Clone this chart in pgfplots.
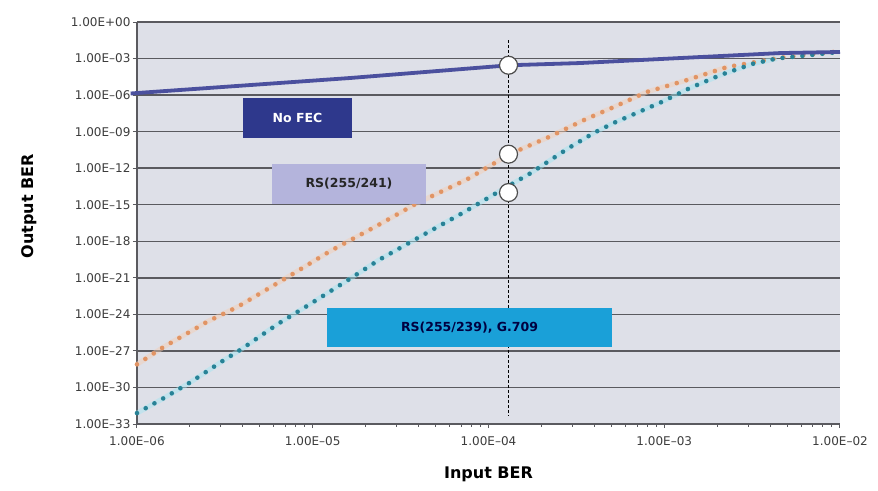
\documentclass[border=0pt]{standalone}
\usepackage{pgfplots}
\pgfplotsset{compat=1.18}
\usepackage{fontspec}
\setmainfont{DejaVu Sans}
\definecolor{bgc}{RGB}{222,224,232}
\definecolor{gridc}{RGB}{90,90,95}
\definecolor{nofec}{RGB}{75,80,158}
\definecolor{nofecbox}{RGB}{46,56,140}
\definecolor{rsbox}{RGB}{180,180,220}
\definecolor{gbox}{RGB}{26,160,216}
\definecolor{orng}{RGB}{225,148,100}
\definecolor{orngh}{RGB}{245,205,178}
\definecolor{teal}{RGB}{40,130,150}
\definecolor{tealh}{RGB}{160,230,242}
\definecolor{txt}{RGB}{60,60,60}
\begin{document}
\begin{tikzpicture}
\useasboundingbox (-137pt,-66pt) rectangle (741pt,424pt);
\begin{axis}[
  at={(0,0)}, anchor=south west,
  scale only axis, width=703pt, height=402pt,
  xmode=log, ymode=log,
  xmin=1e-6, xmax=1e-2, ymin=1e-33, ymax=1,
  axis background/.style={fill=bgc},
  axis x line*=bottom, axis y line*=left,
  axis line style={-, draw=gridc, line width=1.2pt},
  tick align=outside, major tick length=4pt,
  tick style={draw=gridc, line width=1pt},
  minor xtick={}, minor ytick={},
  xtick={1e-6,1e-5,1e-4,1e-3,1e-2},
  xticklabels={1.00E--06,1.00E--05,1.00E--04,1.00E--03,1.00E--02},
  ytick={1e-33,1e-30,1e-27,1e-24,1e-21,1e-18,1e-15,1e-12,1e-9,1e-6,1e-3,1},
  yticklabels={1.00E--33,1.00E--30,1.00E--27,1.00E--24,1.00E--21,1.00E--18,1.00E--15,1.00E--12,1.00E--09,1.00E--06,1.00E--03,1.00E+00},
  ticklabel style={font=\fontsize{12}{14}\selectfont, text=txt},
  xticklabel style={yshift=-5pt},
  yticklabel style={xshift=1pt},
  ymajorgrids, grid style={draw=gridc, line width=1.4pt},
  every axis x label/.style={at={(rel axis cs:0.5,0)}, yshift=-50pt, anchor=center},
  every axis y label/.style={at={(rel axis cs:0,0.542)}, xshift=-108pt, rotate=90, anchor=center},
  xlabel={\fontsize{16}{18}\selectfont\bfseries Input BER},
  ylabel={\fontsize{16}{18}\selectfont\bfseries Output BER},
  clip=false,
]
% halos
\addplot[tealh, line width=5pt, opacity=0.45, line join=round] coordinates {
(1e-6,7.9e-33)(1.41e-6,1.26e-31)(2.0e-6,2.5e-30)(3.09e-6,1.58e-28)(3.98e-6,1.58e-27)
(6.31e-6,1.58e-25)(9.55e-6,6.3e-24)(1.58e-5,6.3e-22)(2.40e-5,3.16e-20)(4.47e-5,5.0e-18)
(7.08e-5,2.0e-16)(1.12e-4,1.0e-14)(1.74e-4,3.98e-13)(2.82e-4,3.98e-11)(3.98e-4,7.9e-10)
(5.13e-4,5.0e-9)(9.55e-4,2.5e-7)(1.41e-3,3.98e-6)(2.09e-3,4.47e-5)(3.24e-3,3.98e-4)
(4.37e-3,1.0e-3)};
\addplot[orngh, line width=5pt, opacity=0.45, line join=round] coordinates {
(1e-6,7.9e-29)(1.41e-6,2.0e-27)(2.51e-6,2.5e-25)(3.72e-6,4.0e-24)(7.08e-6,1.0e-21)
(1.26e-5,1.6e-19)(2.34e-5,2.0e-17)(3.89e-5,1.26e-15)(7.59e-5,1.26e-13)(1.32e-4,1.41e-11)
(2.24e-4,3.98e-10)(3.55e-4,1.0e-8)(5.13e-4,1.0e-7)(7.94e-4,1.78e-6)(1.35e-3,1.74e-5)
(2.29e-3,2.04e-4)};
% RS(255/241)
\addplot[orng, line width=4.6pt, line cap=round, dash pattern=on 0pt off 10pt] coordinates {
(1e-6,7.9e-29)(1.41e-6,2.0e-27)(2.51e-6,2.5e-25)(3.72e-6,4.0e-24)(7.08e-6,1.0e-21)
(1.26e-5,1.6e-19)(2.34e-5,2.0e-17)(3.89e-5,1.26e-15)(7.59e-5,1.26e-13)(1.32e-4,1.41e-11)
(2.24e-4,3.98e-10)(3.55e-4,1.0e-8)(5.13e-4,1.0e-7)(7.94e-4,1.78e-6)(1.35e-3,1.74e-5)
(2.29e-3,2.04e-4)(4.47e-3,1.12e-3)(1e-2,3.98e-3)};
% RS(255/239)
\addplot[teal, line width=4.6pt, line cap=round, dash pattern=on 0pt off 10pt] coordinates {
(1e-6,7.9e-33)(1.41e-6,1.26e-31)(2.0e-6,2.5e-30)(3.09e-6,1.58e-28)(3.98e-6,1.58e-27)
(6.31e-6,1.58e-25)(9.55e-6,6.3e-24)(1.58e-5,6.3e-22)(2.40e-5,3.16e-20)(4.47e-5,5.0e-18)
(7.08e-5,2.0e-16)(1.12e-4,1.0e-14)(1.74e-4,3.98e-13)(2.82e-4,3.98e-11)(3.98e-4,7.9e-10)
(5.13e-4,5.0e-9)(9.55e-4,2.5e-7)(1.41e-3,3.98e-6)(2.09e-3,4.47e-5)(3.24e-3,3.98e-4)
(4.37e-3,1.0e-3)(1e-2,3.5e-3)};
% No FEC
\addplot[nofec, line width=3.8pt] coordinates {
(9.2e-7,1.35e-6)(1e-6,1.48e-6)(1.62e-5,2.51e-5)(1.32e-4,2.82e-4)(3.31e-4,4.27e-4)(1.23e-3,1.1e-3)(4.57e-3,2.82e-3)(1e-2,3.47e-3)};
% vertical dashed line
\addplot[black, line width=0.9pt, dash pattern=on 3pt off 2pt] coordinates {(1.3e-4,3.2e-2)(1.3e-4,5e-33)};
% circles
\addplot[only marks, mark=*, mark size=9pt, mark options={fill=white, draw=black!70, line width=1.2pt}] coordinates {
(1.3e-4,2.82e-4)(1.3e-4,1.41e-11)(1.3e-4,1.0e-14)};
% label boxes
\node[fill=nofecbox, text=white, minimum width=109pt, minimum height=40pt, inner sep=0pt, font=\fontsize{12.5}{14}\selectfont\bfseries] at (rel axis cs:0.2283,0.7612) {No FEC};
\node[fill=rsbox, text=black!85, minimum width=154pt, minimum height=40pt, inner sep=0pt, font=\fontsize{12.5}{14}\selectfont\bfseries] at (rel axis cs:0.3016,0.5970) {RS(255/241)};
\node[fill=gbox, text=black!75!blue, minimum width=285pt, minimum height=39pt, inner sep=0pt, font=\fontsize{12.5}{14}\selectfont\bfseries] at (rel axis cs:0.473,0.240) {RS(255/239), G.709};
\end{axis}
\end{tikzpicture}
\end{document}
